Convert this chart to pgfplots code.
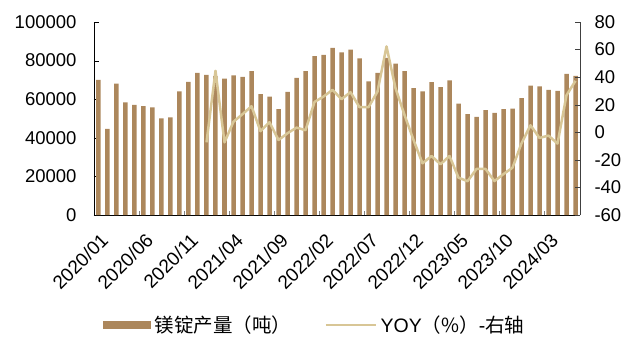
\documentclass[border=0pt]{standalone}
\usepackage{pgfplots}
\usepackage{pgfplotstable}
\pgfplotsset{compat=1.18}
\usepackage{fontspec}
\setmainfont{Liberation Sans}
\newfontfamily\cjk{Noto Sans CJK SC}
\definecolor{barc}{HTML}{AC875C}
\definecolor{linec}{HTML}{D8C696}

\pgfplotstableread{
x y
0 70000
1 44600
2 68100
3 58400
4 57000
5 56400
6 55800
7 50100
8 50600
9 64100
10 69000
11 73600
12 72600
13 72000
14 70700
15 72300
16 71600
17 74500
18 62600
19 61300
20 54800
21 63800
22 71000
23 74500
24 82300
25 83000
26 86600
27 84200
28 85700
29 81200
30 69300
31 73600
32 81400
33 78400
34 74500
35 65800
36 64100
37 68900
38 66200
39 69800
40 57700
41 52300
42 50800
43 54300
44 52900
45 54800
46 55100
47 60500
48 67100
49 66600
50 64800
51 64300
52 73100
53 72100
}\prodtable

\pgfplotstableread{
x y
12 -7.3
13 44.6
14 -7.3
15 7.7
16 13.1
17 18.9
18 0.8
19 7.3
20 -5.6
21 -0.7
22 3.4
23 1.5
24 22
25 25.9
26 30.8
27 24
28 29.1
29 18.2
30 18.2
31 29.5
32 62.3
33 32
34 12.6
35 -5.5
36 -22.5
37 -17.2
38 -23.2
39 -17.2
40 -32.9
41 -35.5
42 -26.6
43 -26.6
44 -35.4
45 -30.3
46 -25.7
47 -8
48 5.1
49 -4.1
50 -2.4
51 -8.2
52 26.9
53 37.3
}\yoytable

\begin{document}
\begin{tikzpicture}
\path[use as bounding box] (-94pt,-123pt) rectangle (535pt,215pt);
\begin{axis}[
  width=486pt, height=193pt, scale only axis,
  xmin=-0.5, xmax=53.5, ymin=0, ymax=100000,
  scaled y ticks=false,
  axis x line*=bottom, axis y line*=left,
  x axis line style={-, black}, y axis line style={-, black},
  tick label style={font=\fontsize{18.5}{20}\selectfont},
  ytick={0,20000,40000,60000,80000,100000},
  yticklabels={0,20000,40000,60000,80000,100000},
  yticklabel style={xshift=-14pt},
  ytick style={black},
  major tick length=5pt,
  tick align=inside,
  xtick={0,5,...,50},
  xticklabels={2020/01,2020/06,2020/11,2021/04,2021/09,2022/02,2022/07,2022/12,2023/05,2023/10,2024/03},
  xtick style={draw=none},
  xticklabel style={font=\fontsize{19}{21}\selectfont, xshift=1pt, yshift=-17pt, rotate=45, anchor=north east, inner sep=0pt},
  extra x ticks={4.5,9.5,...,49.5},
  extra x tick labels={},
  extra x tick style={major tick length=4pt, xtick style={draw=gray}},
  legend style={at={(axis description cs:0.0185,-0.57)}, anchor=west, draw=none, fill=none,
    inner sep=0pt, nodes={inner sep=3.5pt}, font=\fontsize{19.5}{21}\selectfont,
    /tikz/every even column/.append style={column sep=30pt}},
  legend columns=2,
  legend cell align=left,
]
\addplot[ybar, bar width=0.5, fill=barc, draw=none,
  legend image code/.code={\fill[barc] (0pt,-4pt) rectangle (48pt,4pt);}]
  table[x=x,y=y] {\prodtable};
\addlegendentry{\cjk 镁锭产量（吨）}
\addlegendimage{legend image code/.code={\draw[linec, line width=2.5pt] (0pt,0pt) -- (50pt,0pt);}}
\addlegendentry{YOY{\cjk （\%）}-{\cjk 右轴}}
\end{axis}
\begin{axis}[
  width=486pt, height=193pt, scale only axis,
  xmin=-0.5, xmax=53.5, ymin=-60, ymax=80,
  axis x line=none, axis y line*=right,
  y axis line style={-, darkgray},
  tick label style={font=\fontsize{18.5}{20}\selectfont},
  ytick={-60,-40,-20,0,20,40,60,80},
  yticklabels={-60,-40,-20,0,20,40,60,80},
  yticklabel style={xshift=11pt},
  ytick style={darkgray},
  major tick length=5pt,
  tick align=inside,
]
\addplot[linec, line width=2.5pt, line join=round] table[x=x,y=y] {\yoytable};
\end{axis}
\end{tikzpicture}
\end{document}
